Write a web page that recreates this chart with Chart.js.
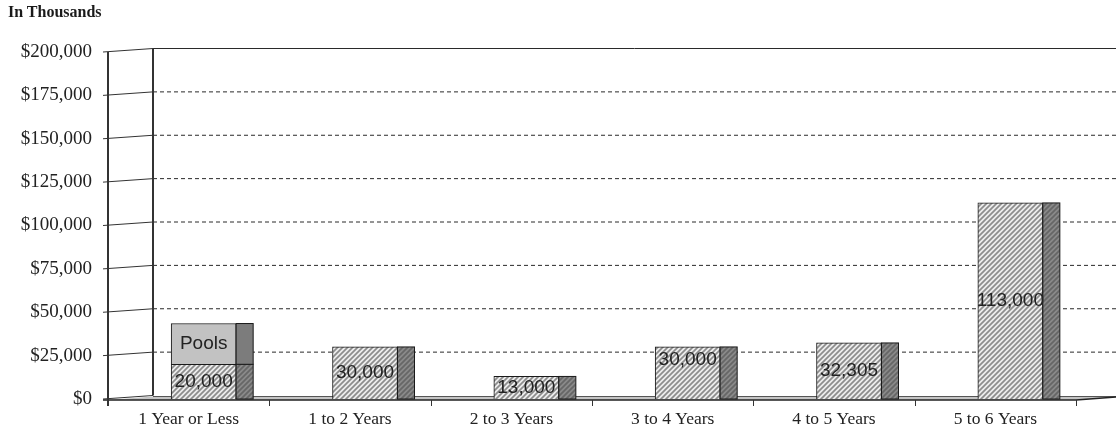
<!DOCTYPE html>
<html lang="en">
<head>
  <meta charset="UTF-8" />
  <title>Maturities - In Thousands</title>
  <style>
    * { margin: 0; padding: 0; box-sizing: border-box; }
    body { background: #fff; }
    .chart-wrap {
      position: relative;
      width: 1116px;
      height: 434px;
    }
    .unit-note {
      position: absolute;
      left: 8px;
      top: 4px;
      font: bold 16px/16px "Liberation Serif", "Times New Roman", serif;
      color: #1a1a1a;
    }
  </style>
</head>
<body>
  <div class="chart-wrap">
    <div class="unit-note">In Thousands</div>
    <canvas id="maturityChart"></canvas>
  </div>

  <script src="https://cdn.jsdelivr.net/npm/chart.js"></script>
  <script>
    // ---- data ----
    const categories = ['1 Year or Less', '1 to 2 Years', '2 to 3 Years', '3 to 4 Years', '4 to 5 Years', '5 to 6 Years'];
    const maturingValues = [20000, 30000, 13000, 30000, 32305, 113000];
    const poolValues = [23500, null, null, null, null, null];
    const poolLabel = 'Pools';
    const yTickValues = [0, 25000, 50000, 75000, 100000, 125000, 150000, 175000, 200000];

    // ---- fills ----
    function makeHatch(bg, fg) {
      const c = document.createElement('canvas');
      c.width = 5; c.height = 5;
      const g = c.getContext('2d');
      g.fillStyle = bg;
      g.fillRect(0, 0, 5, 5);
      g.strokeStyle = fg;
      g.lineWidth = 1.7;
      g.beginPath();
      g.moveTo(-1, 6); g.lineTo(6, -1);
      g.moveTo(-1, 1); g.lineTo(1, -1);
      g.moveTo(4, 6); g.lineTo(6, 4);
      g.stroke();
      return g.createPattern(c, 'repeat');
    }
    const ctx = document.getElementById('maturityChart').getContext('2d');
    const frontHatch = makeHatch('#ececec', '#8c8c8c');
    const sideHatch = makeHatch('#8a8a8a', '#666');

    // 3D look: back wall offset, bar depth, front face shift
    const wallDX = 45, wallDY = -3.5, barDepth = 17, barShift = 15;
    const labelNudge = { 3: -13 };

    const fmt = v => v.toLocaleString('en-US');

    const pseudo3d = {
      id: 'pseudo3d',
      beforeDatasetsDraw(chart) {
        const c = chart.ctx;
        const { left, right, top, bottom } = chart.chartArea;
        const y = chart.scales.y;
        const W = chart.width;
        c.save();
        // back wall gridlines
        yTickValues.forEach(v => {
          const py = y.getPixelForValue(v);
          const by = py + wallDY;
          if (v > 0) {
            c.strokeStyle = '#2a2a2a';
            c.lineWidth = 1;
            c.setLineDash(v === 200000 ? [] : [4, 3]);
            c.beginPath();
            c.moveTo(left + wallDX, by);
            c.lineTo(W, by);
            c.stroke();
          }
          // oblique tick from front axis to back wall
          c.setLineDash([]);
          c.strokeStyle = '#333';
          c.beginPath();
          c.moveTo(left - 5, py);
          c.lineTo(left + wallDX, by);
          c.stroke();
        });
        // back wall left edge
        c.setLineDash([]);
        c.strokeStyle = '#333';
        c.lineWidth = 2;
        c.beginPath();
        c.moveTo(left + wallDX, top + wallDY);
        c.lineTo(left + wallDX, bottom + wallDY);
        c.stroke();
        // floor
        c.fillStyle = '#c4c4c4';
        c.beginPath();
        c.moveTo(left, bottom + 1);
        c.lineTo(left + wallDX, bottom + 1 + wallDY);
        c.lineTo(right + wallDX, bottom + 1 + wallDY);
        c.lineTo(right, bottom + 1);
        c.closePath();
        c.fill();
        c.lineWidth = 1;
        c.strokeStyle = '#555';
        c.beginPath();
        c.moveTo(left + wallDX, bottom + 1 + wallDY);
        c.lineTo(right + wallDX, bottom + 1 + wallDY);
        c.stroke();
        c.lineWidth = 1.5;
        c.strokeStyle = '#222';
        c.beginPath();
        c.moveTo(left - 5, bottom + 1);
        c.lineTo(right, bottom + 1);
        c.lineTo(right + wallDX, bottom + 1 + wallDY);
        c.stroke();
        // front value axis
        c.lineWidth = 2;
        c.strokeStyle = '#333';
        c.beginPath();
        c.moveTo(left, top);
        c.lineTo(left, bottom + 7);
        c.stroke();
        // category boundary ticks
        c.lineWidth = 1;
        const n = categories.length;
        for (let i = 1; i <= n; i++) {
          const px = Math.round(left + i * (right - left) / n) + 0.5;
          c.beginPath();
          c.moveTo(px, bottom + 1);
          c.lineTo(px, bottom + 7);
          c.stroke();
        }
        c.restore();
        // shift bar front faces for the depth effect
        c.save();
        c.translate(barShift, 0);
      },
      afterDatasetsDraw(chart) {
        const c = chart.ctx;
        // side faces
        chart.data.datasets.forEach((ds, di) => {
          chart.getDatasetMeta(di).data.forEach((bar, i) => {
            if (ds.data[i] == null) return;
            const p = bar.getProps(['x', 'y', 'base', 'width'], true);
            const x0 = p.x + p.width / 2;
            c.fillStyle = di === 0 ? sideHatch : '#7c7c7c';
            c.fillRect(x0, p.y, barDepth, p.base - p.y);
            c.strokeStyle = '#1a1a1a';
            c.lineWidth = 1;
            c.strokeRect(x0, p.y, barDepth, p.base - p.y);
          });
        });
        // value labels
        c.font = '19px "Liberation Sans", Arial, sans-serif';
        c.fillStyle = '#222';
        c.textAlign = 'center';
        c.textBaseline = 'middle';
        chart.data.datasets.forEach((ds, di) => {
          chart.getDatasetMeta(di).data.forEach((bar, i) => {
            if (ds.data[i] == null) return;
            const p = bar.getProps(['x', 'y', 'base'], true);
            const txt = di === 0 ? fmt(ds.data[i]) : poolLabel;
            c.fillText(txt, p.x, (p.y + p.base) / 2 + (di === 0 ? (labelNudge[i] || 0) : 0));
          });
        });
        c.restore();
      }
    };

    new Chart(ctx, {
      type: 'bar',
      data: {
        labels: categories,
        datasets: [
          {
            label: 'Maturities',
            data: maturingValues,
            backgroundColor: frontHatch,
            borderColor: '#1a1a1a',
            borderWidth: 1,
            barThickness: 65,
            clip: false
          },
          {
            label: poolLabel,
            data: poolValues,
            backgroundColor: '#c2c2c2',
            borderColor: '#1a1a1a',
            borderWidth: 1,
            barThickness: 65,
            clip: false
          }
        ]
      },
      options: {
        responsive: true,
        maintainAspectRatio: false,
        animation: false,
        layout: { padding: { left: 0, right: 40, top: 52, bottom: 0 } },
        plugins: {
          legend: { display: false },
          tooltip: { enabled: false }
        },
        scales: {
          x: {
            stacked: true,
            grid: { display: false, drawTicks: false },
            border: { display: false },
            ticks: {
              padding: 10,
              color: '#222',
              font: { family: '"Liberation Serif", "Times New Roman", serif', size: 17.5 }
            },
            afterFit(scale) { scale.height = 35; }
          },
          y: {
            stacked: true,
            min: 0,
            max: 200000,
            afterBuildTicks(scale) { scale.ticks = yTickValues.map(v => ({ value: v })); },
            grid: { display: false, drawTicks: false },
            border: { display: false },
            ticks: {
              padding: 16,
              color: '#222',
              font: { family: '"Liberation Serif", "Times New Roman", serif', size: 19 },
              callback: v => '$' + fmt(v)
            },
            afterFit(scale) { scale.width = 108; }
          }
        }
      },
      plugins: [pseudo3d]
    });
  </script>
</body>
</html>
